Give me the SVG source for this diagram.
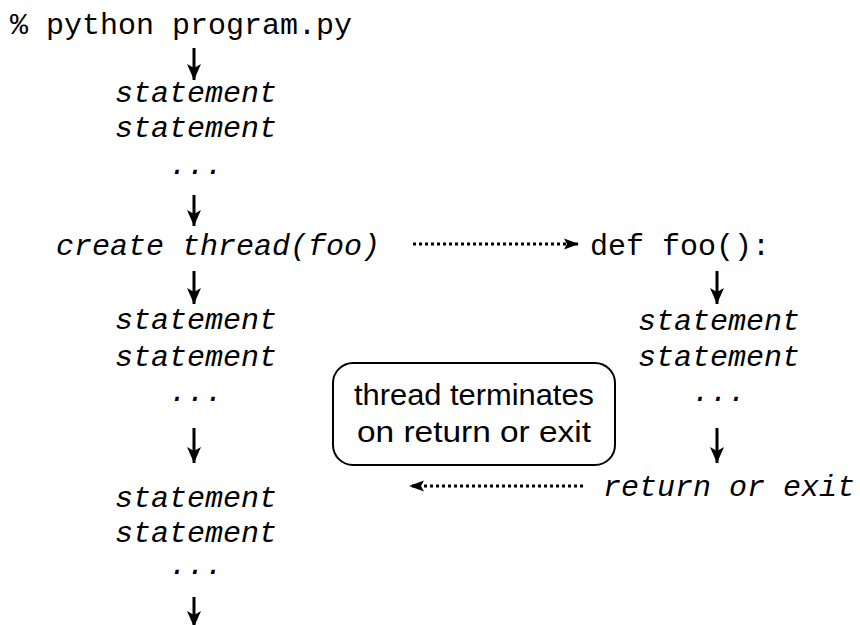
<svg xmlns="http://www.w3.org/2000/svg" width="860" height="625" viewBox="0 0 860 625">
<style>
.code{font-family:"Liberation Mono","Courier New",monospace;font-size:30px;fill:#000}
.it{font-style:italic}
.mid{text-anchor:middle}
.note{font-family:"Liberation Sans","Gill Sans",Arial,sans-serif;font-size:29px;fill:#000;text-anchor:middle}
.solid{stroke:#000;stroke-width:3;fill:none;marker-end:url(#ah)}
.dot{stroke:#000;stroke-width:3;fill:none;stroke-dasharray:3 3;marker-end:url(#ah2)}
</style>
<defs>
<marker id="ah" markerWidth="16" markerHeight="15" viewBox="0 0 16 15" refX="16" refY="7.5" orient="auto" markerUnits="userSpaceOnUse">
<path d="M0,0.5 L16,7.5 L0,14.5 L4,7.5 Z" fill="#000"/>
</marker>
<marker id="ah2" markerWidth="15" markerHeight="12" viewBox="0 0 15 12" refX="15" refY="6" orient="auto" markerUnits="userSpaceOnUse">
<path d="M0,0.5 L15,6 L0,11.5 L3,6 Z" fill="#000"/>
</marker>
</defs>
<g id="n-cmd"><text class="code" x="10" y="34">% python program.py</text></g>
<g id="n-main1"><text class="code it" x="115" y="102">statement</text><text class="code it" x="115" y="137">statement</text><text class="code it mid" x="196" y="174">...</text></g>
<g id="n-create"><text class="code it" x="56" y="255">create thread(foo)</text></g>
<g id="n-main2"><text class="code it" x="115" y="329">statement</text><text class="code it" x="115" y="366">statement</text><text class="code it mid" x="196" y="401">...</text></g>
<g id="n-main3"><text class="code it" x="115" y="507">statement</text><text class="code it" x="115" y="542">statement</text><text class="code it mid" x="196" y="574">...</text></g>
<g id="n-def"><text class="code" x="590" y="255">def foo():</text></g>
<g id="n-foo"><text class="code it" x="638" y="330">statement</text><text class="code it" x="638" y="366">statement</text><text class="code it mid" x="719" y="401">...</text></g>
<g id="n-return"><text class="code it" x="603" y="496">return or exit</text></g>
<g id="n-note"><rect x="333" y="363" width="282" height="102" rx="20" ry="20" fill="#fff" stroke="#000" stroke-width="2"/><text class="note" x="474" y="405" textLength="240" lengthAdjust="spacingAndGlyphs">thread terminates</text><text class="note" x="474" y="442" textLength="234" lengthAdjust="spacingAndGlyphs">on return or exit</text></g>
<g id="connectors">
<line class="solid" x1="194" y1="48" x2="194" y2="80"/>
<line class="solid" x1="194" y1="195" x2="194" y2="226"/>
<line class="solid" x1="194" y1="271" x2="194" y2="304"/>
<line class="solid" x1="194" y1="428" x2="194" y2="463"/>
<line class="solid" x1="194" y1="597" x2="194" y2="627"/>
<line class="solid" x1="717" y1="271" x2="717" y2="304"/>
<line class="solid" x1="717" y1="428" x2="717" y2="463"/>
<line class="dot" x1="413" y1="244" x2="579" y2="244"/>
<line class="dot" x1="583" y1="486" x2="409" y2="486"/>
</g>
</svg>
